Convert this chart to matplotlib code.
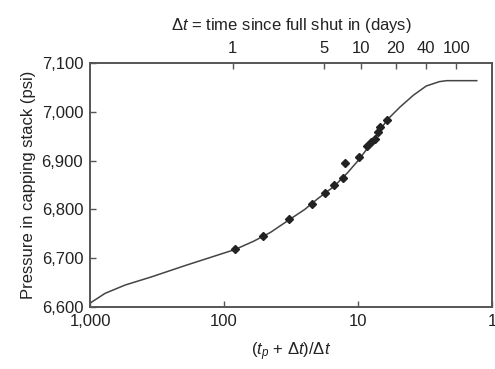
import matplotlib
matplotlib.use("Agg")
import matplotlib.pyplot as plt
from matplotlib.ticker import FixedLocator, FuncFormatter, NullLocator

plt.rcParams['font.family'] = ['Liberation Sans', 'DejaVu Sans']
plt.rcParams['mathtext.fontset'] = 'custom'
plt.rcParams['mathtext.rm'] = 'Liberation Sans'
plt.rcParams['mathtext.it'] = 'Liberation Sans:italic'

# Horner curve
horner_curve = [1000, 773, 548, 346, 195, 110, 82.6, 60, 45, 33, 25, 20, 15, 12, 10, 8, 7, 6.1,
                4.86, 3.87, 3.1, 2.47, 2.18, 1.8, 1.3]
press_curve = [6608, 6628, 6645, 6662, 6685, 6707, 6718, 6735, 6753, 6778, 6800, 6822, 6848, 6875, 6900, 6935, 6958, 6983,
               7010, 7034, 7053, 7062, 7064, 7064, 7064]

# measured points
horner_pts = [82.6, 51.4, 32.7, 22.2, 17.6, 15.1, 13.0, 12.6, 9.78, 8.53, 7.95, 7.5, 7.09, 6.8, 6.1]
press_pts = [6719, 6745, 6780, 6812, 6834, 6850, 6865, 6896, 6908, 6930, 6938, 6945, 6959, 6968, 6983]

# top axis: shut-in time in days, producing time tp
tp = 85.0
dt_ticks = [1, 5, 10, 20, 40, 100]

fig = plt.figure(figsize=(4.95, 3.69), dpi=100)
ax = fig.add_axes([0.182, 0.168, 0.812, 0.661])

ax.plot(horner_curve, press_curve, color='#444444', lw=1.1)
ax.plot(horner_pts, press_pts, 'D', color='#222222', ms=4, mec='#222222')

ax.set_xscale('log')
ax.set_xlim(1000, 1)
ax.set_ylim(6600, 7100)
ax.xaxis.set_major_locator(FixedLocator([1000, 100, 10, 1]))
ax.xaxis.set_minor_locator(NullLocator())
ax.xaxis.set_major_formatter(FuncFormatter(lambda v, p: '{:,.0f}'.format(v)))
ax.set_yticks([6600, 6700, 6800, 6900, 7000, 7100])
ax.yaxis.set_major_formatter(FuncFormatter(lambda v, p: '{:,.0f}'.format(v)))

ax.set_xlabel(r'$(t_p$ + $\Delta t)/\Delta t$', fontsize=12, color='#222222', labelpad=8)
ax.set_ylabel('Pressure in capping stack (psi)', fontsize=12, color='#222222', labelpad=4)

ax2 = ax.twiny()
ax2.set_xscale('log')
ax2.set_xlim(1000, 1)
ax2.xaxis.set_major_locator(FixedLocator([1 + tp / d for d in dt_ticks]))
ax2.xaxis.set_minor_locator(NullLocator())
ax2.set_xticklabels([str(d) for d in dt_ticks])
ax2.set_xlabel(r'$\Delta t$ = time since full shut in (days)', fontsize=12, color='#222222', labelpad=8)

for a in (ax, ax2):
    a.tick_params(direction='in', length=4, width=1, colors='#555555', labelcolor='#222222', labelsize=12, pad=5)
    for s in a.spines.values():
        s.set_color('#555555')
        s.set_linewidth(1.2)

fig.savefig('out.png', dpi=100)
